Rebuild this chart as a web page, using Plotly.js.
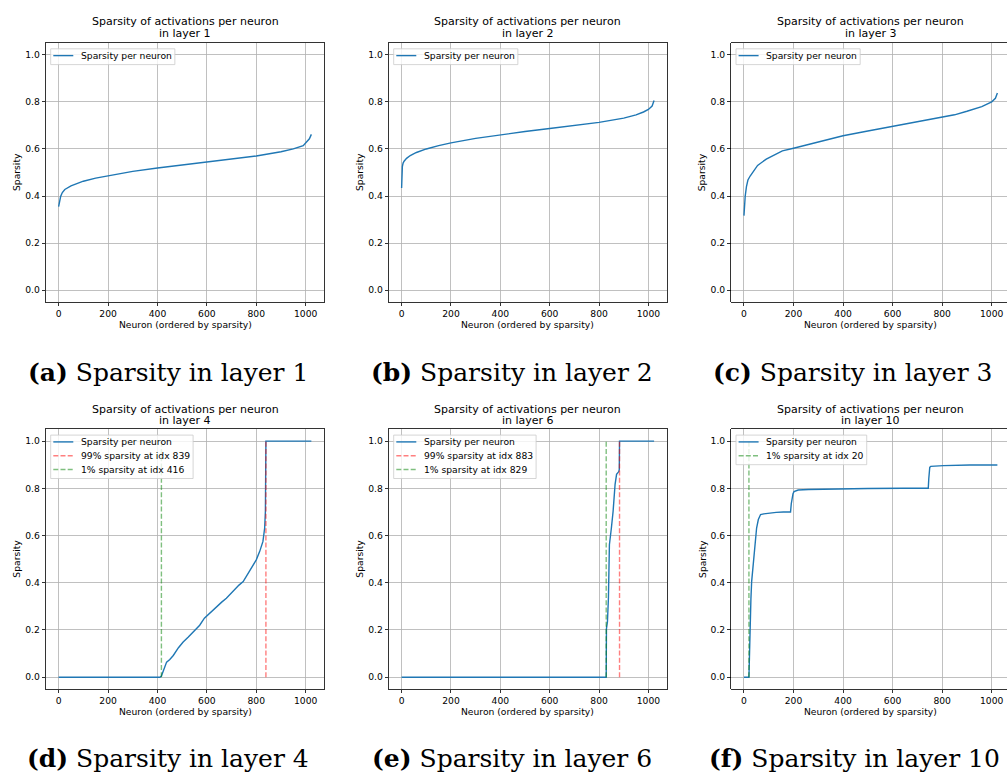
<!DOCTYPE html>
<html>
<head>
<meta charset="utf-8">
<script src="https://cdn.plot.ly/plotly-3.0.1.min.js"></script>
<style>
  html, body { margin: 0; padding: 0; background: #fff; }
  #chart { width: 1007px; height: 776px; }
</style>
</head>
<body>
<div id="chart"></div>
<script>
// ---- Sorted per-neuron sparsity for each layer (neuron index, sparsity) ----
const layer1Neuron   = [0, 3, 8, 15, 25, 50, 100, 150, 200, 300, 400, 500, 600, 700, 800, 900, 950, 990, 1005, 1015, 1023];
const layer1Sparsity = [0.355, 0.378, 0.398, 0.415, 0.428, 0.443, 0.463, 0.476, 0.486, 0.505, 0.519, 0.531, 0.543, 0.555, 0.570, 0.588, 0.600, 0.614, 0.630, 0.643, 0.662];

const layer2Neuron   = [0, 1, 3, 6, 10, 20, 35, 60, 100, 150, 200, 300, 400, 500, 600, 700, 800, 900, 950, 980, 1000, 1015, 1023];
const layer2Sparsity = [0.434, 0.490, 0.525, 0.540, 0.548, 0.560, 0.572, 0.585, 0.600, 0.614, 0.626, 0.645, 0.661, 0.674, 0.687, 0.699, 0.713, 0.731, 0.745, 0.757, 0.768, 0.782, 0.806];

const layer3Neuron   = [0, 2, 5, 10, 16, 25, 35, 55, 90, 120, 155, 200, 250, 300, 350, 400, 500, 600, 700, 800, 850, 900, 960, 1000, 1015, 1023];
const layer3Sparsity = [0.317, 0.360, 0.400, 0.440, 0.468, 0.485, 0.500, 0.530, 0.557, 0.572, 0.592, 0.603, 0.617, 0.630, 0.645, 0.656, 0.676, 0.695, 0.716, 0.733, 0.745, 0.760, 0.780, 0.800, 0.815, 0.838];

const layer4Neuron   = [0, 410, 416, 425, 437, 450, 464, 485, 504, 525, 544, 571, 590, 605, 625, 639, 660, 679, 706, 730, 747, 774, 800, 814, 827, 834, 837, 838, 839, 1023];
const layer4Sparsity = [0, 0, 0.005, 0.030, 0.064, 0.075, 0.092, 0.125, 0.149, 0.170, 0.189, 0.220, 0.250, 0.265, 0.285, 0.298, 0.318, 0.334, 0.365, 0.390, 0.405, 0.455, 0.497, 0.533, 0.575, 0.632, 0.703, 0.850, 1.0, 1.0];

const layer6Neuron   = [0, 829, 830, 834, 838, 842, 850, 857, 865, 871, 880, 882, 883, 1023];
const layer6Sparsity = [0, 0, 0.206, 0.234, 0.334, 0.561, 0.632, 0.703, 0.817, 0.859, 0.871, 0.880, 1.0, 1.0];

const layer10Neuron   = [0, 20, 22, 24, 28, 31, 38, 44, 51, 58, 67, 80, 105, 130, 159, 188, 191, 194, 198, 202, 219, 260, 374, 500, 643, 744, 746, 747, 750, 754, 805, 912, 1023];
const layer10Sparsity = [0, 0, 0.08, 0.22, 0.33, 0.405, 0.476, 0.547, 0.632, 0.668, 0.689, 0.692, 0.696, 0.698, 0.700, 0.700, 0.735, 0.760, 0.777, 0.786, 0.793, 0.795, 0.798, 0.799, 0.800, 0.800, 0.840, 0.881, 0.889, 0.893, 0.896, 0.899, 0.899];

// Threshold markers: index where sparsity crosses 99% / 1%
const layer4Idx99 = 839, layer4Idx1 = 416;
const layer6Idx99 = 883, layer6Idx1 = 829;
const layer10Idx1 = 20;
const markerSpan = [0, 1];

const layerNames = ['1', '2', '3', '4', '6', '10'];
const panelLetters = ['a', 'b', 'c', 'd', 'e', 'f'];

// ---- Page geometry (pixels) ----
const W = 1007, H = 776;
const px = x => x / W;
const py = y => 1 - y / H;

const BLUE = '#1f77b4';
const RED = 'rgba(255,0,0,0.5)';
const GREEN = 'rgba(0,128,0,0.5)';
const DASH = '5px,2.2px';

const frames = [
  { l: 46,    r: 324,   t: 43,    b: 302, x1: 1074.15, cut: false },
  { l: 389,   r: 666.7, t: 43,    b: 302, x1: 1074.15, cut: false },
  { l: 731.3, r: 1007,  t: 43,    b: 302, x1: 1061.8,  cut: true  },
  { l: 46,    r: 324,   t: 429.3, b: 689, x1: 1074.15, cut: false },
  { l: 389,   r: 666.7, t: 429.3, b: 689, x1: 1074.15, cut: false },
  { l: 731.3, r: 1007,  t: 429.3, b: 689, x1: 1061.8,  cut: true  }
];
// full (uncropped) right edge of each axes box, used for centering titles
const fullRight = [324, 666.7, 1010, 324, 666.7, 1010];
const captionCenters = [168, 512, 852, 168, 512, 854];

const smallFont = { family: 'DejaVu Sans, sans-serif', size: 9.2, color: '#000' };
const titleFont = { family: 'DejaVu Sans, sans-serif', size: 11, color: '#000' };
const captionFont = { family: 'DejaVu Serif, serif', size: 25, color: '#000' };

const curves = [
  [layer1Neuron, layer1Sparsity],
  [layer2Neuron, layer2Sparsity],
  [layer3Neuron, layer3Sparsity],
  [layer4Neuron, layer4Sparsity],
  [layer6Neuron, layer6Sparsity],
  [layer10Neuron, layer10Sparsity]
];

// vertical threshold markers per panel
const markers = [
  [], [], [],
  [{ idx: layer4Idx99, pct: '99%', color: RED }, { idx: layer4Idx1, pct: '1%', color: GREEN }],
  [{ idx: layer6Idx99, pct: '99%', color: RED }, { idx: layer6Idx1, pct: '1%', color: GREEN }],
  [{ idx: layer10Idx1, pct: '1%', color: GREEN }]
];

const traces = [];
const layout = {
  width: W, height: H, autosize: false,
  margin: { l: 0, r: 0, t: 0, b: 0 },
  paper_bgcolor: '#fff', plot_bgcolor: '#fff',
  showlegend: false,
  annotations: [], shapes: []
};

const measureCtx = document.createElement('canvas').getContext('2d');
measureCtx.font = '9.2px "DejaVu Sans"';

frames.forEach((f, i) => {
  const n = i === 0 ? '' : String(i + 1);
  const xa = 'x' + n, ya = 'y' + n;

  layout['xaxis' + n] = {
    domain: [px(f.l), px(f.r)], range: [-51.15, f.x1], anchor: ya,
    tickmode: 'linear', tick0: 0, dtick: 200,
    ticks: 'outside', ticklen: 3.5, tickwidth: 0.8, tickcolor: '#000',
    showline: true, linecolor: '#000', linewidth: 0.8, mirror: true,
    showgrid: true, gridcolor: '#b0b0b0', gridwidth: 0.8, zeroline: false,
    tickfont: smallFont, fixedrange: true
  };
  layout['yaxis' + n] = {
    domain: [py(f.b), py(f.t)], range: [-0.05, 1.05], anchor: xa,
    tickmode: 'linear', tick0: 0, dtick: 0.2, tickformat: '.1f',
    ticks: 'outside', ticklen: 3.5, tickwidth: 0.8, tickcolor: '#000',
    showline: true, linecolor: '#000', linewidth: 0.8, mirror: !f.cut,
    showgrid: true, gridcolor: '#b0b0b0', gridwidth: 0.8, zeroline: false,
    tickfont: smallFont, fixedrange: true
  };

  // sparsity curve
  traces.push({
    x: curves[i][0], y: curves[i][1], xaxis: xa, yaxis: ya,
    mode: 'lines', line: { color: BLUE, width: 1.4 }, hoverinfo: 'skip'
  });
  // threshold markers
  markers[i].forEach(m => {
    traces.push({
      x: [m.idx, m.idx], y: markerSpan, xaxis: xa, yaxis: ya,
      mode: 'lines', line: { color: m.color, width: 1.4, dash: DASH }, hoverinfo: 'skip'
    });
  });

  // two-line title
  const cx = (f.l + fullRight[i]) / 2;
  const row2 = f.t > 100;
  const tTop = row2 ? 409 : 21.3;
  layout.annotations.push(
    { xref: 'paper', yref: 'paper', x: px(cx), y: py(tTop), xanchor: 'center', yanchor: 'middle',
      text: 'Sparsity of activations per neuron', showarrow: false, font: titleFont },
    { xref: 'paper', yref: 'paper', x: px(cx), y: py(tTop + 12), xanchor: 'center', yanchor: 'middle',
      text: 'in layer ' + layerNames[i], showarrow: false, font: titleFont }
  );
  // axis labels
  layout.annotations.push(
    { xref: 'paper', yref: 'paper', x: px(cx), y: py(f.b + 22), xanchor: 'center', yanchor: 'middle',
      text: 'Neuron (ordered by sparsity)', showarrow: false, font: smallFont },
    { xref: 'paper', yref: 'paper', x: px(f.l - 29.5), y: py((f.t + f.b) / 2), xanchor: 'center', yanchor: 'middle',
      text: 'Sparsity', textangle: -90, showarrow: false, font: smallFont }
  );
  // sub-figure caption
  layout.annotations.push({
    xref: 'paper', yref: 'paper', x: px(captionCenters[i]), y: py(row2 ? 758 : 372.5),
    xanchor: 'center', yanchor: 'middle', showarrow: false, font: captionFont,
    text: '<b>(' + panelLetters[i] + ')</b> Sparsity in layer ' + layerNames[i]
  });

  // legend box
  const entries = [{ label: 'Sparsity per neuron', color: BLUE, dash: 'solid' }]
    .concat(markers[i].map(m => ({ label: m.pct + ' sparsity at idx ' + m.idx, color: m.color, dash: DASH })));
  const boxL = f.l + 4.7, boxT = f.t + 5.8, rowH = 13.8;
  const firstRow = boxT + 6.8;
  const textX = boxL + 29.3;
  const maxW = Math.max(...entries.map(e => measureCtx.measureText(e.label).width));
  const boxR = textX + maxW + 4;
  const boxB = firstRow + (entries.length - 1) * rowH + 9;
  layout.shapes.push({
    type: 'rect', xref: 'paper', yref: 'paper', layer: 'above',
    x0: px(boxL), x1: px(boxR), y0: py(boxB), y1: py(boxT),
    fillcolor: 'rgba(255,255,255,0.8)', line: { color: '#cccccc', width: 0.8 }
  });
  entries.forEach((e, k) => {
    const yc = firstRow + k * rowH;
    layout.shapes.push({
      type: 'line', xref: 'paper', yref: 'paper', layer: 'above',
      x0: px(boxL + 2.6), x1: px(boxL + 22.6), y0: py(yc), y1: py(yc),
      line: { color: e.color, width: 1.4, dash: e.dash }
    });
    layout.annotations.push({
      xref: 'paper', yref: 'paper', x: px(textX - 1), y: py(yc), xanchor: 'left', yanchor: 'middle',
      text: e.label, showarrow: false, font: smallFont
    });
  });
});

Plotly.newPlot('chart', traces, layout, { displayModeBar: false, staticPlot: true });
</script>
</body>
</html>
